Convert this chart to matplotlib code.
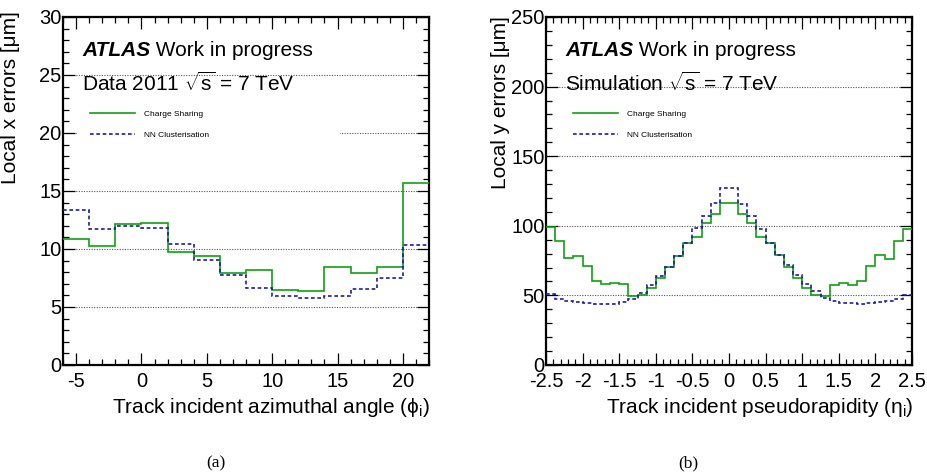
import numpy as np
import matplotlib
matplotlib.use("Agg")
import matplotlib.pyplot as plt
from matplotlib.ticker import MultipleLocator, FormatStrFormatter
from matplotlib.patches import Rectangle

plt.rcParams['font.family'] = ['Liberation Sans', 'DejaVu Sans']
plt.rcParams['mathtext.fontset'] = 'custom'
plt.rcParams['mathtext.rm'] = 'Liberation Sans'
plt.rcParams['mathtext.it'] = 'Liberation Sans:italic'
plt.rcParams['mathtext.bf'] = 'Liberation Sans:bold'
plt.rcParams['axes.unicode_minus'] = False

# ---------------- data ----------------
phi_range = (-6, 22)
phi_nbins = 14
phi_charge_sharing = [10.87, 10.23, 12.17, 12.26, 9.74, 9.36, 7.97, 8.20,
                      6.46, 6.41, 8.49, 7.97, 8.43, 15.68]
phi_nn = [13.36, 11.71, 11.94, 11.83, 10.41, 9.07, 7.74, 6.64,
          5.97, 5.74, 5.97, 6.52, 7.51, 10.38]

eta_range = (-2.5, 2.5)
eta_nbins = 40
eta_charge_sharing = [98.8, 89.2, 76.6, 78.6, 71.3, 60.7, 58.1, 58.8, 58.1, 49.9,
                      50.1, 55.4, 62.2, 70.1, 78.6, 87.5, 91.6, 101.7, 108.4, 116.4,
                      116.4, 108.4, 101.7, 91.6, 87.5, 78.8, 70.1, 62.2, 55.4, 50.1,
                      49.6, 57.8, 58.8, 57.8, 60.7, 71.1, 78.8, 75.9, 89.4, 97.6]
eta_nn = [51.3, 47.7, 46.3, 45.3, 44.6, 44.1, 43.9, 44.1, 45.1, 47.7,
          52.0, 57.8, 63.9, 70.6, 78.3, 88.0, 98.1, 107.2, 116.1, 127.2,
          127.2, 115.7, 106.7, 97.6, 88.0, 79.0, 71.6, 64.6, 58.3, 53.0,
          48.2, 45.8, 44.8, 44.3, 44.1, 44.3, 45.3, 46.3, 47.7, 50.6]

series_labels = ["Charge Sharing", "NN Clusterisation"]

GREEN = '#10a010'
BLUE = '#1c1ca8'

W, H = 927, 476
fig = plt.figure(figsize=(W / 100, H / 100), dpi=100)


def fx(px):
    return px / W


def fy(py):
    return 1 - py / H


def make_panel(rect, xr, nb, cs, nn, ylim, ymaj, ymin, xmaj, xmin,
               ylabel, ylabel_pos, xlabel, xlabel_pos, line2, caption, cap_x):
    ax = fig.add_axes(rect)
    edges = np.linspace(xr[0], xr[1], nb + 1)
    h1 = ax.stairs(cs, edges, baseline=None, color=GREEN, linewidth=1.2,
                   zorder=3, label=series_labels[0])
    h2 = ax.stairs(nn, edges, baseline=None, color=BLUE, linewidth=1.2,
                   linestyle=(0, (2.2, 1.6)), zorder=3, label=series_labels[1])
    ax.set_xlim(*xr)
    ax.set_ylim(*ylim)
    ax.yaxis.set_major_locator(MultipleLocator(ymaj))
    ax.yaxis.set_minor_locator(MultipleLocator(ymin))
    ax.xaxis.set_major_locator(MultipleLocator(xmaj))
    ax.xaxis.set_minor_locator(MultipleLocator(xmin))
    ax.xaxis.set_major_formatter(FormatStrFormatter('%g'))
    ax.yaxis.set_major_formatter(FormatStrFormatter('%g'))
    ax.set_axisbelow(True)
    ax.yaxis.grid(True, which='major', linestyle=(0, (1, 1.3)),
                  color='#555555', linewidth=0.8)
    for s in ax.spines.values():
        s.set_linewidth(1.6)
    ax.tick_params(which='both', direction='in', top=True, right=True,
                   labelsize=14.5, width=0.9)
    ax.tick_params(which='major', length=8.5)
    ax.tick_params(which='minor', length=4.5)
    ax.tick_params(axis='x', pad=5)
    ax.tick_params(axis='y', pad=1)

    # legend background
    ax.add_patch(Rectangle((0.038, 0.618), 0.72, 0.13, transform=ax.transAxes,
                           facecolor='white', edgecolor='none', zorder=1))
    ax.legend(handles=[h1, h2], loc='upper left', bbox_to_anchor=(0.075, 0.733),
              frameon=False, fontsize=6, handlelength=5.4, handletextpad=1.0,
              labelspacing=1.65, borderpad=0, borderaxespad=0)

    t1 = ax.text(0.052, 0.875, "ATLAS", transform=ax.transAxes, fontsize=15,
                 fontweight='bold', fontstyle='italic', va='bottom', ha='left')
    ax.annotate(" Work in progress", xy=(1, 0), xycoords=t1, fontsize=15,
                va='bottom', ha='left')
    ax.text(0.052, 0.775, line2, transform=ax.transAxes, fontsize=15,
            va='bottom', ha='left')

    fig.text(fx(ylabel_pos[0]), fy(ylabel_pos[1]), ylabel, rotation=90,
             ha='center', va='top', fontsize=15)
    fig.text(fx(xlabel_pos[0]), fy(xlabel_pos[1]), xlabel, ha='right',
             va='baseline', fontsize=15)
    fig.text(fx(cap_x), fy(467), caption, ha='center', va='baseline',
             fontsize=12.5, family=['Liberation Serif', 'DejaVu Serif'])
    return ax


make_panel([fx(63), fy(365), fx(366), 348 / H], phi_range, phi_nbins,
           phi_charge_sharing, phi_nn, (0, 30), 5, 1, 5, 1,
           "Local x errors [μm]", (11, 11),
           "Track incident azimuthal angle (ϕ$_{\\mathrm{i}}$)", (430, 413),
           "Data 2011 $\\sqrt{\\mathrm{s}}$ = 7 TeV", "(a)", 216)

make_panel([fx(546), fy(365), fx(366), 348 / H], eta_range, eta_nbins,
           eta_charge_sharing, eta_nn, (0, 250), 50, 10, 0.5, 0.1,
           "Local y errors [μm]", (500, 16),
           "Track incident pseudorapidity (η$_{\\mathrm{i}}$)", (913, 413),
           "Simulation $\\sqrt{\\mathrm{s}}$ = 7 TeV", "(b)", 688)

fig.savefig("out.png", dpi=100)
